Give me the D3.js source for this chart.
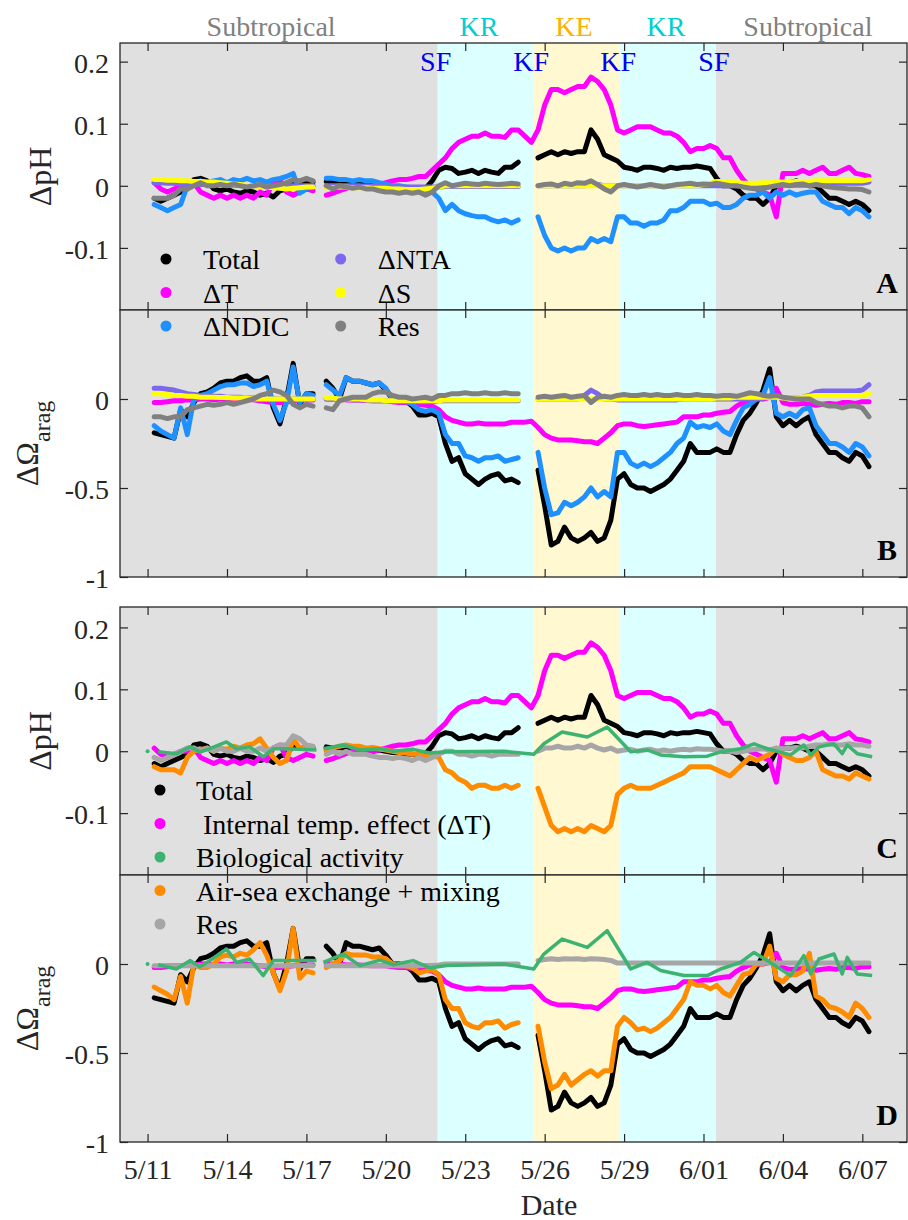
<!DOCTYPE html>
<html>
<head>
<meta charset="utf-8">
<script src="https://cdn.jsdelivr.net/npm/d3@7"></script>
<style>
  body { margin: 0; background: #fff; }
  svg { display: block; }
  text { font-family: "Liberation Serif", "Times New Roman", serif; }
</style>
</head>
<body>
<div id="chart"></div>
<script>
// ---------------------------------------------------------------
// data: 6-hourly samples starting 5/11 06:00 (null = no data)
// ---------------------------------------------------------------
const T0 = Date.UTC(2018, 4, 11, 6);
const STEP_H = 6;

// panel A : delta pH
const totPH = [
  -0.02, -0.025, -0.02, -0.015, -0.01, -0.005, 0.01, 0.012, 0.008, -0.005,
  -0.008, -0.005, -0.01, -0.012, -0.008, -0.01, -0.015, -0.012, -0.018, -0.008,
  -0.005, 0.008, 0.005, 0.004, 0.006, null, 0.007, 0.005, 0.006, 0.004,
  0.003, 0.004, 0.002, 0.0, 0.002, 0.0, -0.002, -0.003, -0.004, -0.005,
  -0.006, -0.004, 0.008, 0.025, 0.03, 0.028, 0.02, 0.022, 0.025, 0.02,
  0.025, 0.022, 0.02, 0.03, 0.03, 0.038, null, null, 0.045, 0.05,
  0.055, 0.05, 0.055, 0.052, 0.055, 0.055, 0.09, 0.075, 0.05, 0.045,
  0.04, 0.03, 0.028, 0.025, 0.03, 0.03, 0.028, 0.025, 0.03, 0.028,
  0.03, 0.03, 0.032, 0.03, 0.028, 0.012, 0.0, 0.0, -0.005, -0.015,
  -0.02, -0.02, -0.03, -0.02, 0.0, 0.005, 0.005, 0.008, 0.005, 0.0,
  0.0, -0.01, -0.02, -0.02, -0.025, -0.03, -0.025, -0.03, -0.04
];
const dtPH = [
  0.005, -0.005, -0.01, -0.005, 0.0, 0.0, 0.005, -0.01, -0.015, -0.02,
  -0.015, -0.02, -0.015, -0.02, -0.015, -0.02, -0.01, -0.015, 0.005, 0.01,
  -0.01, -0.015, -0.01, -0.005, -0.008, null, -0.015, -0.012, -0.008, -0.004,
  0.0, -0.002, 0.0, 0.0, 0.002, 0.005, 0.008, 0.01, 0.01, 0.012,
  0.015, 0.015, 0.025, 0.035, 0.045, 0.06, 0.07, 0.075, 0.08, 0.08,
  0.085, 0.08, 0.08, 0.078, 0.09, 0.09, 0.08, 0.07, 0.09, 0.13,
  0.155, 0.155, 0.15, 0.155, 0.16, 0.16, 0.175, 0.168, 0.155, 0.13,
  0.09, 0.085, 0.09, 0.095, 0.095, 0.095, 0.09, 0.085, 0.085, 0.08,
  0.07, 0.055, 0.06, 0.06, 0.065, 0.06, 0.045, 0.045, 0.025, 0.01,
  0.0, -0.005, -0.01, -0.015, -0.05, 0.02, 0.02, 0.02, 0.025, 0.02,
  0.025, 0.03, 0.02, 0.02, 0.025, 0.03, 0.02, 0.018, 0.015
];
const ndicPH = [
  -0.03, -0.035, -0.04, -0.035, -0.03, 0.0, 0.005, 0.008, 0.005, 0.008,
  0.01, 0.005, 0.01, 0.008, 0.012, 0.008, 0.01, 0.006, 0.01, 0.012,
  0.015, 0.02, -0.012, -0.005, 0.0, null, 0.012, 0.012, 0.01, 0.01,
  0.008, 0.01, 0.008, 0.008, 0.005, 0.003, 0.0, 0.0, -0.002, -0.003,
  -0.005, -0.008, -0.01, -0.02, -0.04, -0.03, -0.04, -0.045, -0.048, -0.05,
  -0.05, -0.055, -0.058, -0.055, -0.06, -0.055, null, null, -0.05, -0.08,
  -0.1, -0.105, -0.1, -0.105, -0.1, -0.1, -0.085, -0.09, -0.085, -0.09,
  -0.05, -0.05, -0.06, -0.06, -0.065, -0.06, -0.06, -0.055, -0.04, -0.04,
  -0.035, -0.025, -0.025, -0.025, -0.03, -0.028, -0.035, -0.035, -0.03, -0.02,
  -0.015, -0.015, -0.01, -0.02, -0.01, -0.015, -0.01, -0.015, -0.012, -0.01,
  -0.01, -0.025, -0.03, -0.035, -0.035, -0.045, -0.035, -0.04, -0.05
];
const ntaPH = [
  0.005, 0.005, 0.004, 0.004, 0.003, 0.003, 0.003, 0.002, 0.002, 0.002,
  0.002, 0.001, 0.001, 0.001, 0.0, 0.0, 0.0, 0.0, 0.0, 0.0,
  0.0, 0.0, 0.0, 0.0, 0.0, null, 0.0, 0.0, 0.0, 0.0,
  0.0, 0.0, -0.001, -0.001, -0.001, -0.002, -0.002, -0.002, -0.002, -0.002,
  -0.002, -0.002, -0.002, -0.002, -0.001, -0.001, -0.001, -0.001, -0.001, -0.001,
  -0.001, -0.001, -0.001, -0.001, -0.001, -0.001, null, null, 0.0, 0.0,
  0.0, 0.0, 0.0, 0.0, 0.0, 0.0, 0.002, 0.002, 0.0, 0.0,
  0.0, 0.0, 0.0, 0.0, 0.0, 0.0, 0.0, 0.0, 0.0, 0.0,
  0.0, 0.0, 0.0, 0.0, 0.0, 0.0, 0.0, 0.0, 0.0, 0.0,
  0.0, 0.0, 0.0, 0.001, 0.001, 0.001, 0.001, 0.001, 0.001, 0.001,
  0.003, 0.004, 0.004, 0.004, 0.004, 0.004, 0.004, 0.004, 0.006
];
const sPH = [
  0.01, 0.01, 0.009, 0.009, 0.008, 0.008, 0.007, 0.007, 0.006, 0.006,
  0.005, 0.004, 0.003, 0.002, 0.001, 0.0, -0.001, -0.002, -0.003, -0.004,
  -0.005, -0.004, -0.003, -0.002, -0.002, null, -0.003, -0.003, -0.002, -0.002,
  -0.003, -0.003, -0.003, -0.004, -0.004, -0.004, -0.005, -0.005, -0.006, -0.006,
  -0.006, -0.005, -0.004, -0.002, 0.0, 0.0, 0.0, 0.0, 0.0, 0.0,
  0.0, 0.0, 0.0, 0.0, 0.0, 0.0, null, null, 0.0, 0.0,
  0.0, 0.0, 0.0, 0.0, 0.0, 0.0, 0.0, 0.0, 0.0, 0.0,
  0.0, 0.0, 0.0, 0.0, 0.0, 0.0, 0.0, 0.0, 0.0, 0.0,
  0.0, 0.0, 0.0, 0.002, 0.004, 0.007, 0.007, 0.006, 0.005, 0.004,
  0.004, 0.004, 0.005, 0.005, 0.006, 0.006, 0.006, 0.007, 0.007, 0.007,
  0.008, 0.008, 0.008, 0.008, 0.008, 0.008, 0.008, 0.008, 0.01
];
const resPH = [
  -0.02, -0.02, -0.02, -0.015, -0.005, -0.005, 0.0, 0.005, 0.0, 0.0,
  0.002, 0.0, 0.003, 0.0, -0.002, 0.0, 0.002, -0.002, 0.0, 0.002,
  0.005, 0.01, 0.008, 0.012, 0.008, null, 0.0, -0.005, 0.0, -0.002,
  -0.004, -0.002, -0.005, -0.005, -0.008, -0.01, -0.01, -0.012, -0.01, -0.012,
  -0.01, -0.015, -0.01, 0.0, 0.005, 0.0, 0.002, 0.004, 0.003, 0.002,
  0.004, 0.003, 0.002, 0.003, 0.004, 0.003, null, null, 0.0, 0.002,
  0.003, 0.0, 0.004, 0.002, 0.005, 0.004, 0.008, 0.002, -0.005, -0.01,
  0.0, 0.002, 0.0, -0.002, 0.0, 0.002, 0.0, -0.002, 0.0, 0.002,
  0.003, 0.004, 0.002, 0.003, 0.002, 0.004, 0.002, 0.0, 0.0, -0.002,
  -0.004, -0.005, -0.004, -0.002, 0.0, 0.002, 0.0, 0.002, 0.003, 0.0,
  0.002, 0.0, -0.002, -0.003, -0.004, -0.005, -0.005, -0.006, -0.01
];

// panel B : delta omega aragonite
const totOM = [
  -0.19, -0.2, -0.21, -0.22, -0.06, -0.1, -0.02, 0.03, 0.04, 0.06,
  0.09, 0.1, 0.1, 0.12, 0.13, 0.1, 0.1, 0.12, -0.05, -0.14,
  0.0, 0.2, -0.03, 0.03, 0.03, null, 0.1, 0.06, 0.0, 0.12,
  0.1, 0.1, 0.09, 0.08, 0.09, 0.05, 0.0, 0.0, -0.01, -0.04,
  -0.09, -0.09, -0.08, -0.1, -0.25, -0.35, -0.33, -0.42, -0.45, -0.48,
  -0.45, -0.43, -0.42, -0.46, -0.45, -0.47, null, null, -0.4, -0.6,
  -0.82, -0.8, -0.72, -0.78, -0.8, -0.78, -0.75, -0.8, -0.78, -0.68,
  -0.45, -0.42, -0.48, -0.5, -0.5, -0.52, -0.5, -0.48, -0.45, -0.4,
  -0.35, -0.25, -0.3, -0.3, -0.3, -0.28, -0.3, -0.3, -0.2, -0.12,
  -0.08, -0.02, 0.05, 0.17, -0.1, -0.15, -0.12, -0.15, -0.12, -0.1,
  -0.2, -0.25, -0.3, -0.3, -0.33, -0.35, -0.3, -0.32, -0.38
];
const dtOM = [
  -0.02, -0.02, -0.015, -0.01, -0.01, -0.005, -0.005, 0.0, 0.0, -0.005,
  0.0, -0.005, 0.0, -0.005, 0.0, -0.005, -0.01, -0.015, -0.02, -0.02,
  -0.015, -0.01, -0.005, -0.005, -0.005, null, 0.0, 0.0, 0.0, -0.005,
  -0.005, -0.005, -0.008, -0.01, -0.01, -0.01, -0.015, -0.02, -0.02, -0.025,
  -0.03, -0.035, -0.04, -0.06, -0.1, -0.12, -0.13, -0.14, -0.14, -0.135,
  -0.14, -0.14, -0.14, -0.14, -0.13, -0.13, -0.13, -0.125, -0.16, -0.2,
  -0.22, -0.23, -0.23, -0.23, -0.235, -0.24, -0.24, -0.25, -0.22, -0.19,
  -0.15, -0.14, -0.14, -0.15, -0.155, -0.15, -0.145, -0.14, -0.135, -0.13,
  -0.1, -0.1, -0.1, -0.09, -0.09, -0.08, -0.075, -0.07, -0.04, -0.02,
  -0.005, 0.0, 0.0, 0.01, 0.06, -0.02, -0.03, -0.03, -0.025, -0.03,
  -0.035, -0.03, -0.025, -0.03, -0.02, -0.02, -0.025, -0.015, -0.015
];
const ndicOM = [
  -0.15, -0.18, -0.2, -0.22, -0.05, -0.2, 0.0, 0.02, 0.03, 0.05,
  0.07, 0.08, 0.08, 0.09, 0.09, 0.07, 0.08, 0.1, -0.03, -0.12,
  -0.02, 0.18, -0.02, 0.03, 0.02, null, 0.08, 0.05, 0.02, 0.12,
  0.1, 0.1, 0.09, 0.08, 0.09, 0.06, 0.0, 0.0, -0.01, -0.03,
  -0.06, -0.07, -0.06, -0.08, -0.2, -0.25, -0.25, -0.32, -0.33, -0.35,
  -0.33, -0.33, -0.32, -0.35, -0.34, -0.33, null, null, -0.3, -0.5,
  -0.65, -0.64, -0.58, -0.6, -0.58, -0.55, -0.5, -0.55, -0.52, -0.55,
  -0.3, -0.3, -0.36, -0.38, -0.36, -0.38, -0.36, -0.33, -0.3, -0.25,
  -0.22, -0.13, -0.16, -0.15, -0.16, -0.14, -0.18, -0.2, -0.12, -0.05,
  -0.03, 0.0, 0.02, 0.12, -0.08, -0.1, -0.08, -0.1, -0.06, -0.05,
  -0.15, -0.2, -0.25, -0.25, -0.27, -0.3, -0.25, -0.27, -0.32
];
const ntaOM = [
  0.06, 0.06, 0.055, 0.05, 0.04, 0.03, 0.025, 0.02, 0.02, 0.015,
  0.015, 0.01, 0.01, 0.01, 0.005, 0.005, 0.005, 0.0, 0.0, 0.0,
  0.0, 0.0, 0.0, 0.0, 0.0, null, 0.0, 0.0, 0.0, 0.0,
  -0.005, -0.005, -0.005, -0.01, -0.01, -0.01, -0.01, -0.015, -0.015, -0.015,
  -0.015, -0.015, -0.015, -0.01, -0.01, -0.01, -0.01, -0.01, -0.01, -0.01,
  -0.01, -0.01, -0.01, -0.01, -0.01, -0.01, null, null, 0.0, 0.0,
  0.0, 0.0, 0.0, 0.0, 0.0, 0.02, 0.05, 0.03, 0.0, 0.0,
  -0.005, -0.005, -0.005, -0.005, -0.005, -0.005, -0.005, -0.005, -0.005, -0.005,
  0.0, 0.0, 0.0, 0.0, 0.0, 0.0, 0.0, 0.0, 0.0, 0.0,
  0.0, 0.0, 0.005, 0.01, 0.01, 0.005, 0.005, 0.005, 0.01, 0.02,
  0.04, 0.045, 0.045, 0.045, 0.045, 0.045, 0.045, 0.05, 0.08
];
const sOM = [
  0.03, 0.03, 0.025, 0.02, 0.02, 0.015, 0.015, 0.01, 0.01, 0.01,
  0.008, 0.008, 0.005, 0.005, 0.005, 0.0, 0.0, 0.0, 0.0, 0.0,
  0.0, 0.0, 0.0, 0.0, 0.0, null, 0.005, 0.005, 0.0, 0.0,
  0.0, 0.0, -0.005, -0.005, -0.005, -0.01, -0.01, -0.01, -0.01, -0.01,
  -0.01, -0.01, -0.01, -0.01, -0.005, -0.005, -0.005, -0.005, -0.005, -0.005,
  -0.005, -0.005, -0.005, -0.005, -0.005, -0.005, null, null, 0.0, 0.0,
  0.0, 0.0, 0.0, 0.0, 0.0, 0.0, 0.0, 0.0, 0.0, 0.0,
  0.0, 0.0, 0.0, 0.0, 0.0, 0.0, 0.0, 0.0, 0.0, 0.0,
  0.0, 0.0, 0.0, 0.0, 0.0, 0.005, 0.005, 0.005, 0.01, 0.01,
  0.01, 0.01, 0.01, 0.01, 0.01, 0.005, 0.005, 0.005, 0.01, 0.015,
  0.02, 0.02, 0.02, 0.02, 0.02, 0.02, 0.02, 0.02, 0.03
];
const resOM = [
  -0.1, -0.1, -0.11, -0.1, -0.1, -0.06, -0.05, -0.04, -0.03, -0.035,
  -0.03, -0.02, -0.03, -0.02, -0.01, 0.0, 0.02, 0.03, 0.05, 0.04,
  0.02, -0.03, -0.05, -0.03, -0.04, null, -0.05, -0.06, -0.01, 0.0,
  0.01, 0.01, 0.01, 0.03, 0.04, 0.04, 0.02, 0.01, 0.01, 0.0,
  0.005, 0.01, 0.0, 0.02, 0.02, 0.03, 0.03, 0.035, 0.03, 0.03,
  0.035, 0.03, 0.03, 0.035, 0.03, 0.03, null, null, 0.01, 0.015,
  0.01, 0.015, 0.02, 0.01, 0.015, 0.02, -0.02, 0.01, 0.015, 0.01,
  0.02, 0.025, 0.02, 0.02, 0.025, 0.02, 0.025, 0.02, 0.02, 0.025,
  0.02, 0.02, 0.025, 0.02, 0.02, 0.015, 0.02, 0.02, 0.015, 0.025,
  0.035, 0.03, 0.02, 0.015, 0.02, 0.01, 0.005, 0.0, 0.0, 0.0,
  -0.02, -0.03, -0.04, -0.04, -0.05, -0.04, -0.04, -0.05, -0.1
];

// panels C and D : air-sea exchange + mixing, residual
const asPH = [
  -0.025, -0.03, -0.03, -0.03, -0.035, -0.01, 0.0, 0.003, 0.005, 0.0,
  0.005, 0.003, 0.008, 0.005, 0.01, 0.012, 0.02, 0.005, -0.01, -0.02,
  -0.015, 0.02, 0.005, 0.008, 0.005, null, 0.0, 0.005, 0.008, 0.01,
  0.008, 0.008, 0.005, 0.006, 0.004, 0.002, 0.0, -0.002, -0.003, -0.005,
  -0.005, -0.008, -0.008, -0.01, -0.03, -0.035, -0.045, -0.05, -0.06, -0.055,
  -0.055, -0.06, -0.06, -0.055, -0.06, -0.055, null, null, -0.06, -0.09,
  -0.12, -0.13, -0.125, -0.13, -0.125, -0.13, -0.12, -0.125, -0.13, -0.12,
  -0.07, -0.06, -0.055, -0.06, -0.06, -0.06, -0.055, -0.05, -0.045, -0.04,
  -0.035, -0.025, -0.025, -0.025, -0.025, -0.03, -0.035, -0.04, -0.03, -0.02,
  -0.01, -0.015, -0.01, -0.005, 0.005, -0.005, -0.01, -0.015, -0.015, -0.01,
  0.0, -0.03, -0.035, -0.04, -0.04, -0.045, -0.035, -0.04, -0.045
];
const res2PH = [
  -0.01, -0.015, -0.01, -0.005, 0.0, 0.005, 0.005, 0.0, 0.005, 0.0,
  0.005, 0.0, 0.0, 0.005, 0.0, 0.0, 0.005, 0.0, 0.005, 0.01,
  0.01, 0.025, 0.02, 0.01, 0.008, null, -0.005, 0.0, -0.005, 0.0,
  -0.005, -0.005, -0.005, -0.008, -0.01, -0.01, -0.012, -0.01, -0.012, -0.015,
  -0.01, -0.015, -0.01, -0.005, 0.0, 0.0, -0.005, -0.005, -0.008, -0.005,
  -0.005, -0.008, -0.005, -0.005, -0.005, -0.005, null, null, 0.0, 0.005,
  0.005, 0.008, 0.005, 0.005, 0.008, 0.005, 0.01, 0.005, 0.002, 0.005,
  0.0, 0.002, 0.003, 0.0, 0.002, 0.003, 0.0, 0.002, 0.0, 0.002,
  0.003, 0.002, 0.004, 0.003, 0.003, 0.002, 0.0, 0.0, -0.002, 0.0,
  0.002, 0.003, 0.004, 0.002, 0.005, 0.004, 0.005, 0.006, 0.005, 0.008,
  0.01, 0.01, 0.012, 0.01, 0.01, 0.012, 0.01, 0.01, 0.008
];
const asOM = [
  -0.13, -0.15, -0.17, -0.2, -0.07, -0.22, 0.0, -0.02, -0.02, 0.0,
  0.04, 0.05, 0.04, 0.06, 0.05, 0.08, 0.12, 0.05, -0.05, -0.15,
  -0.04, 0.2, -0.08, -0.04, -0.05, null, -0.02, 0.0, 0.02, 0.06,
  0.05, 0.05, 0.05, 0.04, 0.04, 0.03, 0.0, -0.01, -0.01, -0.02,
  -0.05, -0.04, -0.03, -0.06, -0.2, -0.25, -0.25, -0.33, -0.35, -0.36,
  -0.33, -0.33, -0.32, -0.36, -0.34, -0.33, null, null, -0.35, -0.55,
  -0.7, -0.68, -0.62, -0.68, -0.65, -0.62, -0.6, -0.63, -0.6, -0.6,
  -0.35, -0.3, -0.33, -0.37, -0.36, -0.38, -0.36, -0.33, -0.3, -0.25,
  -0.2, -0.1, -0.12, -0.12, -0.14, -0.12, -0.16, -0.18, -0.12, -0.06,
  -0.05, 0.0, 0.0, 0.1, -0.08, -0.1, -0.06, -0.06, -0.04, 0.06,
  -0.18, -0.2, -0.24, -0.25, -0.27, -0.3, -0.22, -0.25, -0.3
];
const res2OM = [
  -0.01, -0.01, -0.008, -0.008, -0.01, -0.01, -0.008, -0.01, -0.008, -0.01,
  -0.01, -0.008, -0.01, -0.01, -0.008, -0.01, -0.01, -0.008, -0.01, -0.01,
  -0.008, -0.01, -0.01, -0.008, -0.01, null, -0.01, -0.008, -0.01, -0.01,
  -0.008, -0.01, -0.01, -0.008, -0.01, -0.01, -0.008, -0.01, -0.01, -0.008,
  -0.01, -0.008, -0.008, -0.005, 0.0, 0.0, 0.0, 0.0, 0.0, 0.0,
  0.0, 0.0, 0.0, 0.0, 0.0, 0.0, null, null, 0.02, 0.025,
  0.03, 0.025, 0.03, 0.028, 0.03, 0.025, 0.03, 0.028, 0.025, 0.02,
  0.005, 0.005, 0.005, 0.005, 0.005, 0.005, 0.005, 0.005, 0.005, 0.005,
  0.005, 0.005, 0.005, 0.005, 0.005, 0.005, 0.005, 0.005, 0.005, 0.005,
  0.005, 0.005, 0.005, 0.005, 0.005, 0.005, 0.005, 0.005, 0.005, 0.005,
  0.005, 0.005, 0.005, 0.005, 0.005, 0.005, 0.005, 0.005, 0.005
];

// biological activity: irregular nodes, days after 5/11 00:00
const bioDay = [
  0.40, 1.09, 1.60, 1.98, 2.35, 2.98, 3.36, 3.86, 4.37, 4.75,
  5.25, 6.38, 6.50, 6.64, 7.39, 8.02, 8.78, 9.28, 10.03, 10.66,
  11.30, 13.46, 14.59, 14.97, 15.66, 16.61, 17.36, 18.25, 18.87, 19.38,
  20.26, 21.14, 21.65, 22.40, 22.91, 23.41, 24.29, 24.79, 25.05, 25.36,
  25.93, 26.24, 26.43, 26.81, 27.37
];
const bioPH = [
  -0.001, -0.004, 0.007, -0.001, 0.004, 0.015, 0.004, 0.007, -0.009, 0.004,
  0.004, 0.002, null, 0.004, 0.01, 0.002, 0.004, 0.0, 0.003, -0.003,
  -0.001, 0.0, -0.005, 0.012, 0.031, 0.023, 0.039, -0.001, 0.002, -0.006,
  -0.009, -0.008, -0.001, 0.004, 0.012, 0.004, -0.006, 0.01, -0.006, 0.007,
  0.012, -0.004, 0.01, -0.004, -0.009
];
const bioOM = [
  -0.004, -0.028, 0.019, -0.015, 0.019, 0.084, 0.009, 0.028, -0.065, 0.019,
  0.019, 0.019, null, 0.009, 0.056, -0.009, 0.022, -0.004, 0.019, -0.022,
  -0.009, 0.0, -0.028, 0.056, 0.14, 0.093, 0.187, -0.028, 0.009, -0.037,
  -0.065, -0.065, -0.028, 0.009, 0.065, 0.019, -0.065, 0.047, -0.056, 0.028,
  0.056, -0.056, 0.037, -0.056, -0.065
];
const bioFirst = [0.0, 0.0]; // lone first sample (day 0) for C and D

// x ticks, water-mass regions and front labels
const tickLabels = ['5/11', '5/14', '5/17', '5/20', '5/23', '5/26', '5/29', '6/01', '6/04', '6/07'];
const regionEdges = ['5/21 23:00', '5/25 13:30', '5/28 20:30', '6/01 11:15'];
const regionNames = ['Subtropical', 'KR', 'KE', 'KR', 'Subtropical'];
const regionLabelAt = ['5/15 16:00', '5/23 12:30', '5/27 02:30', '5/30 14:00', '6/04 22:40'];
const frontNames = ['SF', 'KF', 'KF', 'SF'];

// ---------------------------------------------------------------
const W = 908, H = 1220;
const LEFT = 120, RIGHT = 907;
const FONT = '"Liberation Serif", "Times New Roman", serif';
const AXIS_COLOR = '#262626';

const C = {
  total: '#000000', dT: '#ff00ff', ndic: '#1e90ff', nta: '#7b68ee', s: '#ffff00',
  res: '#808080', res2: '#a6a6a6', airsea: '#ff8c00', bio: '#3cb371'
};
const regionFill = ['#e0e0e0', '#dcffff', '#fff8d0', '#dcffff', '#e0e0e0'];
const regionColor = ['#808080', '#00ced1', '#ffb000', '#00ced1', '#808080'];

const parseMD = s => {
  const [md, hm] = s.split(' ');
  const [m, d] = md.split('/').map(Number);
  const [hh, mm] = (hm || '0:00').split(':').map(Number);
  return new Date(Date.UTC(2018, m - 1, d, hh, mm));
};
const dates = totPH.map((_, i) => new Date(T0 + i * STEP_H * 36e5));
const bioDates = bioDay.map(d => new Date(Date.UTC(2018, 4, 11) + d * 864e5));

const x = d3.scaleUtc()
  .domain([Date.UTC(2018, 4, 9, 23), Date.UTC(2018, 5, 8, 16, 30)])
  .range([LEFT, RIGHT]);

const svg = d3.select('#chart').append('svg')
  .attr('width', W).attr('height', H)
  .style('font-family', FONT);

const panels = [
  { id: 'A', top: 43, bottom: 310, domain: [-0.2, 0.23], ticks: [-0.1, 0, 0.1, 0.2], ylab: 'pH',
    series: [[totPH, C.total], [dtPH, C.dT], [ndicPH, C.ndic], [ntaPH, C.nta], [sPH, C.s], [resPH, C.res]] },
  { id: 'B', top: 310, bottom: 577, domain: [-1, 0.5], ticks: [-1, -0.5, 0], ylab: 'om',
    series: [[totOM, C.total], [dtOM, C.dT], [ndicOM, C.ndic], [ntaOM, C.nta], [sOM, C.s], [resOM, C.res]] },
  { id: 'C', top: 607, bottom: 875, domain: [-0.2, 0.233], ticks: [-0.1, 0, 0.1, 0.2], ylab: 'pH',
    series: [[totPH, C.total], [dtPH, C.dT], [asPH, C.airsea], [res2PH, C.res2]], bio: bioPH, bioFirst: bioFirst[0] },
  { id: 'D', top: 875, bottom: 1142, domain: [-1, 0.5], ticks: [-1, -0.5, 0], ylab: 'om',
    series: [[totOM, C.total], [dtOM, C.dT], [asOM, C.airsea], [res2OM, C.res2]], bio: bioOM, bioFirst: bioFirst[1] }
];

const edgeDates = [x.domain()[0], ...regionEdges.map(parseMD), x.domain()[1]];
const tickDates = tickLabels.map(parseMD);

panels.forEach((p, pi) => {
  const y = d3.scaleLinear().domain(p.domain).range([p.bottom, p.top]);
  const g = svg.append('g').attr('id', 'panel-' + p.id);

  g.append('clipPath').attr('id', 'clip-' + p.id)
    .append('rect').attr('x', LEFT).attr('y', p.top)
    .attr('width', RIGHT - LEFT).attr('height', p.bottom - p.top);

  // water-mass shading
  g.append('g').selectAll('rect')
    .data(regionFill)
    .join('rect')
    .attr('x', (d, i) => x(edgeDates[i]))
    .attr('width', (d, i) => x(edgeDates[i + 1]) - x(edgeDates[i]))
    .attr('y', p.top)
    .attr('height', p.bottom - p.top)
    .attr('fill', d => d);

  const plot = g.append('g').attr('clip-path', `url(#clip-${p.id})`);
  const line = d3.line()
    .defined(d => d[1] != null)
    .x(d => x(d[0]))
    .y(d => y(d[1]));

  p.series.forEach(([vals, col]) => {
    plot.append('path')
      .datum(vals.map((v, i) => [dates[i], v]))
      .attr('d', line)
      .attr('fill', 'none')
      .attr('stroke', col)
      .attr('stroke-width', 5)
      .attr('stroke-linecap', 'round')
      .attr('stroke-linejoin', 'round');
  });

  if (p.bio) {
    plot.append('path')
      .datum(p.bio.map((v, i) => [bioDates[i], v]))
      .attr('d', line)
      .attr('fill', 'none')
      .attr('stroke', C.bio)
      .attr('stroke-width', 3.5)
      .attr('stroke-linejoin', 'round');
    plot.append('circle')
      .attr('cx', x(new Date(Date.UTC(2018, 4, 11))))
      .attr('cy', y(p.bioFirst))
      .attr('r', 2)
      .attr('fill', C.bio);
  }

  // axes: ticks inside on all four sides
  const styleAxis = sel => {
    sel.select('.domain').remove();
    sel.selectAll('line').attr('stroke', AXIS_COLOR).attr('stroke-width', 1.2);
    sel.selectAll('text').attr('fill', AXIS_COLOR).style('font-size', '28px').style('font-family', FONT);
  };
  const fmt = v => String(v);

  g.append('g').attr('transform', `translate(${LEFT},0)`)
    .call(d3.axisLeft(y).tickValues(p.ticks).tickSize(-8).tickPadding(11).tickFormat(fmt))
    .call(styleAxis)
    .call(s => s.selectAll('text').attr('dy', '0.38em'));
  g.append('g').attr('transform', `translate(${RIGHT},0)`)
    .call(d3.axisRight(y).tickValues(p.ticks).tickSize(-8).tickFormat(''))
    .call(styleAxis);
  g.append('g').attr('transform', `translate(0,${p.top})`)
    .call(d3.axisTop(x).tickValues(tickDates).tickSize(-8).tickFormat(''))
    .call(styleAxis);
  g.append('g').attr('transform', `translate(0,${p.bottom})`)
    .call(d3.axisBottom(x).tickValues(tickDates).tickSize(-8).tickPadding(17)
      .tickFormat(pi === 3 ? (d, i) => tickLabels[i] : ''))
    .call(styleAxis);

  g.append('rect')
    .attr('x', LEFT).attr('y', p.top)
    .attr('width', RIGHT - LEFT).attr('height', p.bottom - p.top)
    .attr('fill', 'none').attr('stroke', AXIS_COLOR).attr('stroke-width', 1.3);

  // panel letter
  g.append('text')
    .attr('x', 887).attr('y', p.bottom - 17)
    .attr('text-anchor', 'middle')
    .attr('font-weight', 'bold')
    .style('font-size', '30px')
    .attr('fill', '#000')
    .text(p.id);

  // y label
  const cy = (p.top + p.bottom) / 2;
  if (p.ylab === 'pH') {
    g.append('text')
      .attr('transform', `translate(51,${cy}) rotate(-90)`)
      .attr('text-anchor', 'middle')
      .attr('fill', AXIS_COLOR)
      .style('font-size', '32px')
      .text('ΔpH');
  } else {
    const t = g.append('text')
      .attr('transform', `translate(38,${cy}) rotate(-90)`)
      .attr('text-anchor', 'middle')
      .attr('fill', AXIS_COLOR)
      .style('font-size', '32px');
    t.append('tspan').text('ΔΩ');
    t.append('tspan').attr('dy', 12).style('font-size', '24px').text('arag');
  }
});

// region names and fronts above panel A
svg.append('g').selectAll('text')
  .data(regionNames)
  .join('text')
  .attr('x', (d, i) => x(parseMD(regionLabelAt[i])))
  .attr('y', 36)
  .attr('text-anchor', 'middle')
  .style('font-size', '28px')
  .attr('fill', (d, i) => regionColor[i])
  .text(d => d);

svg.append('g').selectAll('text')
  .data(frontNames)
  .join('text')
  .attr('x', (d, i) => x(parseMD(regionEdges[i])) - 2)
  .attr('y', 71)
  .attr('text-anchor', 'middle')
  .style('font-size', '28px')
  .attr('fill', '#0000ee')
  .text(d => d);

// legends (drawn last, they overlap the panel below)
const legendA = [
  { name: 'Total', color: C.total, col: 0, row: 0 },
  { name: 'ΔT', color: C.dT, col: 0, row: 1 },
  { name: 'ΔNDIC', color: C.ndic, col: 0, row: 2 },
  { name: 'ΔNTA', color: C.nta, col: 1, row: 0 },
  { name: 'ΔS', color: C.s, col: 1, row: 1 },
  { name: 'Res', color: C.res, col: 1, row: 2 }
];
const legendC = [
  { name: 'Total', color: C.total },
  { name: '\u00a0Internal temp. effect (ΔT)', color: C.dT },
  { name: 'Biological activity', color: C.bio },
  { name: 'Air-sea exchange + mixing', color: C.airsea },
  { name: 'Res', color: C.res2 }
];

const legA = svg.append('g').selectAll('g')
  .data(legendA)
  .join('g')
  .attr('transform', d => `translate(${166 + d.col * 174.7},${269 + d.row * 33.5})`);
legA.append('circle').attr('cx', 0).attr('cy', -10).attr('r', 5.5).attr('fill', d => d.color);
legA.append('text').attr('x', 37).attr('y', 0).style('font-size', '28px').attr('fill', '#000').text(d => d.name);

const legC = svg.append('g').selectAll('g')
  .data(legendC)
  .join('g')
  .attr('transform', (d, i) => `translate(160,${800 + i * 33.5})`);
legC.append('circle').attr('cx', 0).attr('cy', -10).attr('r', 5.5).attr('fill', d => d.color);
legC.append('text').attr('x', 36).attr('y', 0).style('font-size', '28px').attr('fill', '#000').text(d => d.name);

// x label
svg.append('text')
  .attr('x', 549).attr('y', 1215)
  .attr('text-anchor', 'middle')
  .attr('fill', AXIS_COLOR)
  .style('font-size', '30px')
  .text('Date');
</script>
</body>
</html>
